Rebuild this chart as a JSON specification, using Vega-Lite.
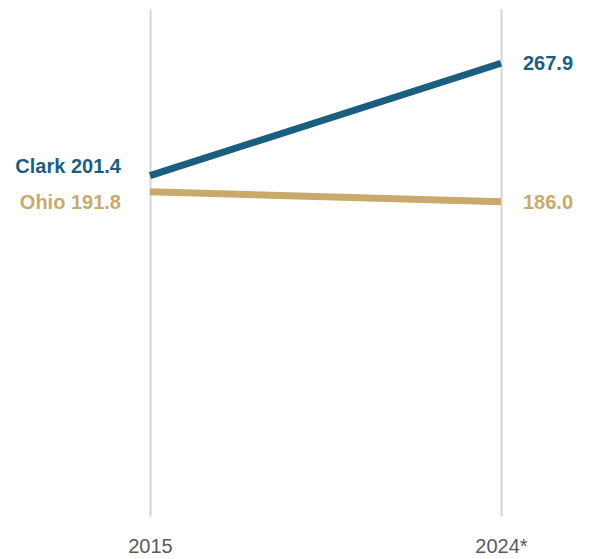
{
  "$schema": "https://vega.github.io/schema/vega-lite/v6.json",
  "autosize": {"type": "none"},
  "padding": {"left": 0, "top": 9, "right": 0, "bottom": 43},
  "width": 591,
  "height": 507,
  "background": "white",
  "config": {"view": {"stroke": null}, "font": "Liberation Sans"},
  "data": {"values": [
    {"year": "2015", "series": "Clark", "value": 201.4},
    {"year": "2024*", "series": "Clark", "value": 267.9},
    {"year": "2015", "series": "Ohio", "value": 191.8},
    {"year": "2024*", "series": "Ohio", "value": 186.0}
  ]},
  "encoding": {
    "x": {"field": "year", "type": "ordinal", "sort": null,
      "scale": {"type": "point", "range": [150, 501], "padding": 0},
      "axis": {"title": null, "labelAngle": 0, "grid": true, "gridColor": "#d6d6d6", "gridWidth": 2,
        "domain": false, "ticks": false, "labelFontSize": 20, "labelColor": "#5a5a5a", "labelPadding": 20,
        "labelFont": "Liberation Sans"}},
    "y": {"field": "value", "type": "quantitative", "scale": {"domain": [0, 300], "nice": false, "zero": true}, "axis": null},
    "color": {"field": "series", "type": "nominal", "scale": {"domain": ["Clark", "Ohio"], "range": ["#1b5f80", "#c9a96c"]}, "legend": null}
  },
  "layer": [
    {"mark": {"type": "line", "strokeWidth": 7, "strokeCap": "butt"}},
    {"transform": [{"filter": "datum.year == '2015' && datum.series == 'Clark'"}, {"calculate": "datum.series + ' ' + format(datum.value, '.1f')", "as": "label"}],
     "mark": {"type": "text", "align": "right", "baseline": "middle", "dx": -29, "dy": -9, "fontSize": 20, "fontWeight": "bold"},
     "encoding": {"text": {"field": "label"}}},
    {"transform": [{"filter": "datum.year == '2015' && datum.series == 'Ohio'"}, {"calculate": "datum.series + ' ' + format(datum.value, '.1f')", "as": "label"}],
     "mark": {"type": "text", "align": "right", "baseline": "middle", "dx": -29, "dy": 11, "fontSize": 20, "fontWeight": "bold"},
     "encoding": {"text": {"field": "label"}}},
    {"transform": [{"filter": "datum.year == '2024*'"}],
     "mark": {"type": "text", "align": "left", "baseline": "middle", "dx": 22, "dy": 1, "fontSize": 20, "fontWeight": "bold"},
     "encoding": {"text": {"field": "value", "format": ".1f"}}}
  ]
}
